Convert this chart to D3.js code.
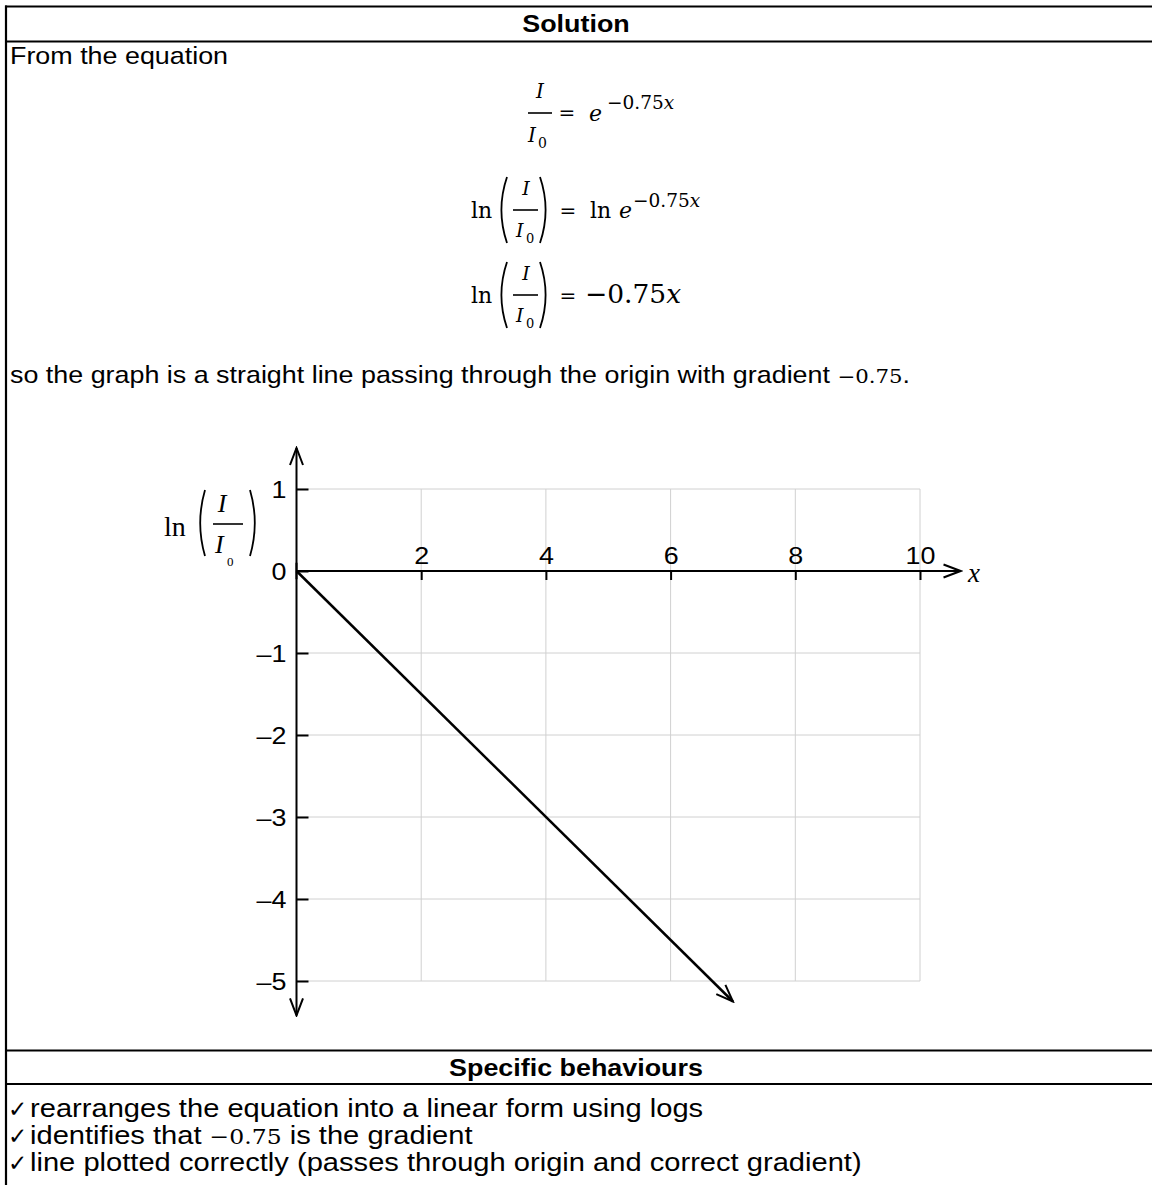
<!DOCTYPE html>
<html>
<head>
<meta charset="utf-8">
<script src="https://cdn.jsdelivr.net/npm/d3@7"></script>
<style>
  body { margin: 0; background: #fff; }
</style>
</head>
<body>
<script>
const W = 1152, H = 1185;

// values
const xTicks = [2, 4, 6, 8, 10];
const yTicks = [1, 0, -1, -2, -3, -4, -5];
const yTickLabels = ["1", "0", "–1", "–2", "–3", "–4", "–5"];
const gridX = [2, 4, 6, 8, 10];
const gridY = [1, -1, -2, -3, -4, -5];
const lineX = [0, 7];
const lineY = [0, -5.25];
const behaviours = [
  "rearranges the equation into a linear form using logs",
  "identifies that −0.75 is the gradient",
  "line plotted correctly (passes through origin and correct gradient)"
];

const sans = "'Liberation Sans', Arial, sans-serif";
const math = "'DejaVu Serif', serif";
const times = "'Liberation Serif', 'Times New Roman', serif";
const SX = 1.12; // the sans text in the picture is a bit wide

const svg = d3.select("body").append("svg")
  .attr("width", W).attr("height", H);

// ---- table frame ----
const frame = svg.append("g").attr("stroke", "#000").attr("stroke-width", 2.2);
[6.5, 41.5, 1050.5, 1084].forEach(yy => {
  frame.append("line").attr("x1", 5).attr("x2", W).attr("y1", yy).attr("y2", yy);
});
frame.append("line").attr("x1", 6).attr("x2", 6).attr("y1", 5.5).attr("y2", H);

function stext(x, y, font, anchor) {
  return svg.append("text")
    .attr("transform", `translate(${x},${y}) scale(${SX},1)`)
    .attr("text-anchor", anchor || "start")
    .style("font", font);
}
function addMathRun(t, s, size) {
  const parts = s.split("−0.75");
  t.append("tspan").text(parts[0]);
  if (parts.length > 1) {
    t.append("tspan").style("font", `${size}px ${math}`).text("−0.75");
    t.append("tspan").text(parts[1]);
  }
}

stext(576, 32, `bold 24px ${sans}`, "middle").text("Solution");
stext(576, 1076, `bold 24px ${sans}`, "middle").text("Specific behaviours");
stext(10, 64, `24px ${sans}`).text("From the equation");
addMathRun(stext(10, 383, `24px ${sans}`),
  "so the graph is a straight line passing through the origin with gradient −0.75.", 19);

behaviours.forEach((t, i) => {
  const by = 1117 + i * 27;
  svg.append("text").attr("x", 8).attr("y", by)
    .style("font", "23px 'DejaVu Sans'").text("✓");
  addMathRun(stext(30, by, `26px ${sans}`), t, 21);
});

// ---- equations ----
function mtext(x, y, s, size, opts = {}) {
  return svg.append("text").attr("x", x).attr("y", y)
    .attr("text-anchor", opts.anchor || "start")
    .style("font-family", opts.family || math)
    .style("font-size", size + "px")
    .style("font-style", opts.italic ? "italic" : "normal")
    .text(s);
}
function bar(x1, x2, y) {
  svg.append("line").attr("x1", x1).attr("x2", x2).attr("y1", y).attr("y2", y)
    .attr("stroke", "#000").attr("stroke-width", 1.6);
}
function paren(x, top, bot, left, w) {
  const mid = (top + bot) / 2, d = left ? -w : w;
  svg.append("path")
    .attr("d", `M${x},${top} Q${x + d * 1.6},${mid} ${x},${bot}`)
    .attr("fill", "none").attr("stroke", "#000").attr("stroke-width", 1.8);
}
function expo(x, y, size) {
  const t = mtext(x, y, "−0.75", size);
  t.append("tspan").style("font-style", "italic").text("x");
  return t;
}

// eq 1
mtext(540, 98, "I", 20, { anchor: "middle", italic: true });
bar(528, 552, 113);
mtext(528, 142, "I", 20, { italic: true });
mtext(538, 148, "0", 14);
mtext(567, 120, "=", 20, { anchor: "middle" });
mtext(589, 121, "e", 22, { italic: true });
expo(607, 109, 18.5);

// eq 2
mtext(471, 218, "ln", 22);
paren(507, 177, 243, true, 7);
paren(540, 177, 243, false, 7);
mtext(526, 195, "I", 19, { anchor: "middle", italic: true });
bar(513, 538, 210);
mtext(516, 237, "I", 19, { italic: true });
mtext(526, 243, "0", 13);
mtext(568, 218, "=", 20, { anchor: "middle" });
mtext(590, 218, "ln", 22);
mtext(619, 218, "e", 22, { italic: true });
expo(633, 207, 18.5);

// eq 3
mtext(471, 303, "ln", 22);
paren(507, 262, 328, true, 7);
paren(540, 262, 328, false, 7);
mtext(526, 280, "I", 19, { anchor: "middle", italic: true });
bar(513, 538, 295);
mtext(516, 322, "I", 19, { italic: true });
mtext(526, 328, "0", 13);
mtext(568, 303, "=", 20, { anchor: "middle" });
expo(585, 303, 26.5);

// ---- graph ----
const x = d3.scaleLinear().domain([0, 10]).range([296.5, 920]);
const y = d3.scaleLinear().domain([1, -5]).range([489, 981]);

const grid = svg.append("g").attr("stroke", "#d0d0d0").attr("stroke-width", 1);
gridX.forEach(v => grid.append("line")
  .attr("x1", x(v)).attr("x2", x(v)).attr("y1", y(1)).attr("y2", y(-5)));
gridY.forEach(v => grid.append("line")
  .attr("x1", x(0)).attr("x2", x(10)).attr("y1", y(v)).attr("y2", y(v)));

const defs = svg.append("defs");
defs.append("marker").attr("id", "head")
  .attr("markerUnits", "userSpaceOnUse")
  .attr("viewBox", "-20 -10 22 20").attr("refX", 0).attr("refY", 0)
  .attr("markerWidth", 22).attr("markerHeight", 20).attr("orient", "auto")
  .append("path").attr("d", "M-17,-6.5 L0,0 L-17,6.5")
  .attr("fill", "none").attr("stroke", "#000").attr("stroke-width", 2);

// axes with arrows
svg.append("line").attr("x1", x(0)).attr("x2", x(10.65)).attr("y1", y(0)).attr("y2", y(0))
  .attr("stroke", "#000").attr("stroke-width", 2).attr("marker-end", "url(#head)");
svg.append("line").attr("x1", x(0)).attr("x2", x(0)).attr("y1", y(-0.1)).attr("y2", y(1.5))
  .attr("stroke", "#000").attr("stroke-width", 2).attr("marker-end", "url(#head)");
svg.append("line").attr("x1", x(0)).attr("x2", x(0)).attr("y1", y(0.1)).attr("y2", y(-5.42))
  .attr("stroke", "#000").attr("stroke-width", 2).attr("marker-end", "url(#head)");

const xAxis = d3.axisTop(x).tickValues(xTicks).tickSizeInner(-9).tickSizeOuter(0).tickPadding(7);
const gx = svg.append("g").attr("transform", `translate(0,${y(0)})`).call(xAxis);
const yAxis = d3.axisLeft(y).tickValues(yTicks).tickSizeInner(-12).tickSizeOuter(0).tickPadding(10)
  .tickFormat((d, i) => yTickLabels[i]);
const gy = svg.append("g").attr("transform", `translate(${x(0)},0)`).call(yAxis);
[gx, gy].forEach(g => {
  g.select(".domain").remove();
  g.selectAll(".tick line").attr("stroke", "#000").attr("stroke-width", 2);
  g.selectAll(".tick text").style("font", `24px ${sans}`).attr("fill", "#000");
});
gx.selectAll(".tick text").attr("transform", `translate(0,-7) scale(${SX},1)`).attr("y", 0).attr("dy", "0");
gy.selectAll(".tick text").attr("transform", `translate(-10,0) scale(${SX},1)`).attr("x", 0).attr("dy", "0.36em");

// data line
svg.append("path")
  .datum(lineX.map((v, i) => [v, lineY[i]]))
  .attr("d", d3.line().x(d => x(d[0])).y(d => y(d[1])))
  .attr("fill", "none").attr("stroke", "#000").attr("stroke-width", 2.5)
  .attr("marker-end", "url(#head)");

// axis labels
mtext(968, 582, "x", 27, { family: times, italic: true });
mtext(164, 536, "ln", 28, { family: times });
paren(205, 490, 556, true, 6);
paren(250, 490, 556, false, 6);
mtext(222, 512, "I", 26, { family: times, italic: true, anchor: "middle" });
bar(213, 243, 524);
mtext(215, 553, "I", 26, { family: times, italic: true });
mtext(227, 566, "0", 13, { family: times });
</script>
</body>
</html>
